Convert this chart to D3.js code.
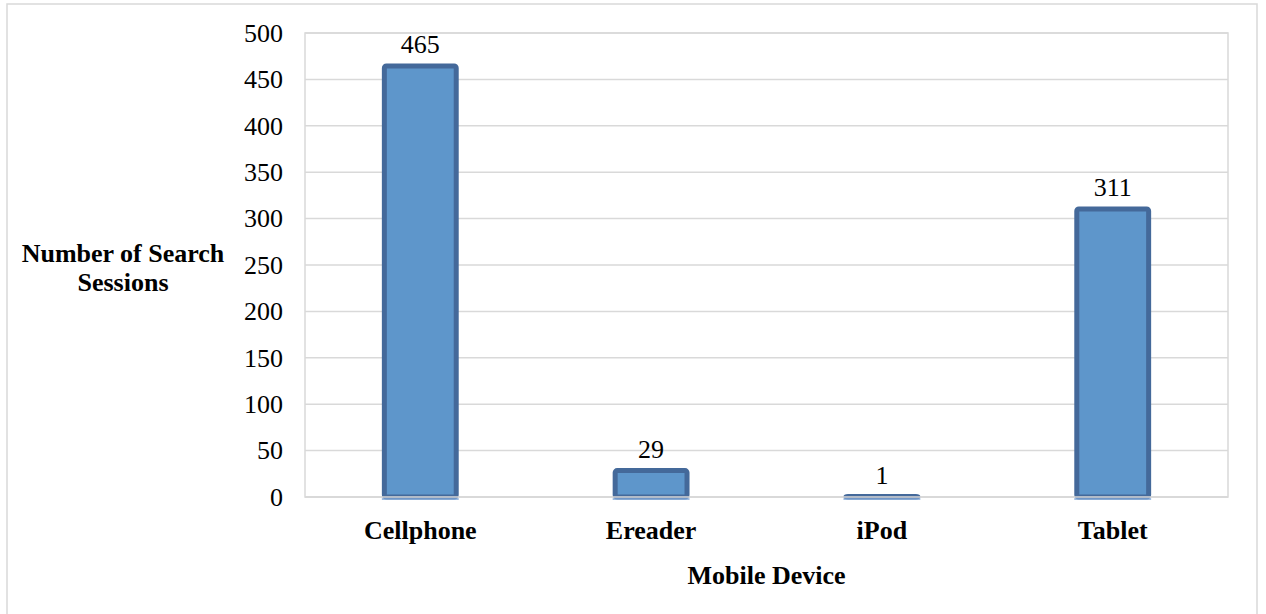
<!DOCTYPE html>
<html><head><meta charset="utf-8">
<script src="https://cdn.jsdelivr.net/npm/d3@7"></script>
<style>body{margin:0;background:#fff}svg{display:block}</style>
</head><body>
<script>
const categories = ["Cellphone", "Ereader", "iPod", "Tablet"];
const sessions = [465, 29, 1, 311];
const yTicks = [0, 50, 100, 150, 200, 250, 300, 350, 400, 450, 500];
const yTitleLines = ["Number of Search", "Sessions"];
const xTitle = "Mobile Device";

const W = 1266, H = 614;
const svg = d3.select("body").append("svg").attr("width", W).attr("height", H);
const font = "'Liberation Serif','Times New Roman',serif";
const fs = 26;

// outer chart border
svg.append("rect").attr("x", 7).attr("y", 4).attr("width", 1250).attr("height", 620)
  .attr("fill", "none").attr("stroke", "#d9d9d9").attr("stroke-width", 1.5);

const m = {left: 305, top: 33, right: 1228, bottom: 497};
const x = d3.scaleBand().domain(categories).range([m.left, m.right]).paddingInner(0.667).paddingOuter(0.333);
const y = d3.scaleLinear().domain([0, 500]).range([m.bottom, m.top]);

// gridlines
svg.append("g").selectAll("line").data(yTicks).join("line")
  .attr("x1", m.left).attr("x2", m.right)
  .attr("y1", d => y(d)).attr("y2", d => y(d))
  .attr("stroke", "#d9d9d9").attr("stroke-width", 1.5);
// plot border
svg.append("rect").attr("x", m.left).attr("y", m.top).attr("width", m.right - m.left).attr("height", m.bottom - m.top)
  .attr("fill", "none").attr("stroke", "#d9d9d9").attr("stroke-width", 1.5);

// y axis tick labels
const yAxis = d3.axisLeft(y).tickValues(yTicks).tickSize(0).tickPadding(22);
const ya = svg.append("g").attr("transform", `translate(${m.left},0)`).call(yAxis);
ya.select(".domain").remove();
ya.selectAll("text").attr("font-family", font).attr("font-size", fs).attr("fill", "#000");

// bars
const sw = 5;
svg.append("g").selectAll("rect").data(sessions).join("rect")
  .attr("x", (d, i) => x(categories[i]) + sw / 2)
  .attr("width", x.bandwidth() - sw)
  .attr("y", d => y(d) + sw / 2 - 2)
  .attr("height", d => Math.max(0, y(0) - y(d) - sw / 2 + 2))
  .attr("rx", 2)
  .attr("fill", "#5e96cb").attr("stroke", "#44699a").attr("stroke-width", sw);

// baseline line over bars
svg.append("line").attr("x1", m.left).attr("x2", m.right).attr("y1", y(0)).attr("y2", y(0))
  .attr("stroke", "#d9d9d9").attr("stroke-width", 1.5);
svg.append("g").selectAll("line").data(sessions).join("line")
  .attr("x1", (d, i) => x(categories[i])).attr("x2", (d, i) => x(categories[i]) + x.bandwidth())
  .attr("y1", y(0) + 2).attr("y2", y(0) + 2)
  .attr("stroke", "#7fa6d6").attr("stroke-width", 1.5);

// data labels
svg.append("g").selectAll("text").data(sessions).join("text")
  .attr("x", (d, i) => x(categories[i]) + x.bandwidth() / 2)
  .attr("y", d => y(d) - 12)
  .attr("text-anchor", "middle")
  .attr("font-family", font).attr("font-size", fs).attr("fill", "#000")
  .text(d => d);

// x axis labels
const xAxis = d3.axisBottom(x).tickSize(0).tickPadding(24);
const xa = svg.append("g").attr("transform", `translate(0,${m.bottom})`).call(xAxis);
xa.select(".domain").remove();
xa.selectAll("text").attr("font-family", font).attr("font-size", fs).attr("font-weight", "bold").attr("fill", "#000");

// axis titles
svg.append("text").attr("x", (m.left + m.right) / 2).attr("y", 584)
  .attr("text-anchor", "middle").attr("font-family", font).attr("font-size", fs).attr("font-weight", "bold")
  .text(xTitle);
svg.append("text").attr("text-anchor", "middle").attr("font-family", font).attr("font-size", fs).attr("font-weight", "bold")
  .selectAll("tspan").data(yTitleLines).join("tspan")
  .attr("x", 123).attr("y", (d, i) => 262 + i * 29).text(d => d);
</script>
</body></html>
